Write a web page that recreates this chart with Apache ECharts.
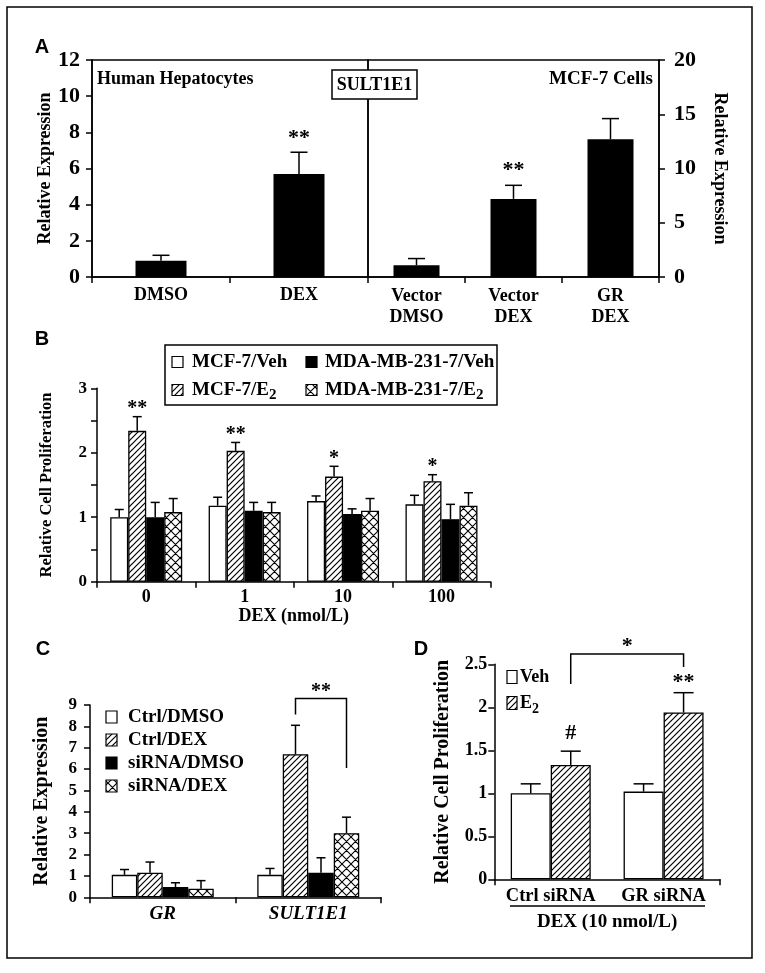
<!DOCTYPE html>
<html><head><meta charset="utf-8">
<script src="https://cdn.jsdelivr.net/npm/echarts@6/dist/echarts.min.js"></script>
<style>html,body{margin:0;padding:0;background:#fff}#c{width:765px;height:973px}</style>
</head><body><div id="c"></div>
<script>
// ---------- DATA ----------
// Panel A (left: human hepatocytes, right: MCF-7 cells)
const aLeftCats = ['DMSO', 'DEX'];
const aLeftVals = [0.9, 5.7];
const aLeftErr = [1.2, 6.9];
const aLeftSig = ['', '**'];
const aRightCats = ['Vector\nDMSO', 'Vector\nDEX', 'GR\nDEX'];
const aRightVals = [1.08, 7.2, 12.7];
const aRightErr = [1.7, 8.45, 14.6];
const aRightSig = ['', '**', ''];

// Panel B
const bCats = ['0', '1', '10', '100'];
const bMcfVeh = [1.0, 1.18, 1.25, 1.2];
const bMcfVehErr = [1.12, 1.31, 1.33, 1.34];
const bMcfE2 = [2.34, 2.03, 1.63, 1.56];
const bMcfE2Err = [2.56, 2.16, 1.79, 1.66];
const bMcfE2Sig = ['**', '**', '*', '*'];
const bMdaVeh = [1.0, 1.10, 1.05, 0.97];
const bMdaVehErr = [1.23, 1.23, 1.13, 1.2];
const bMdaE2 = [1.08, 1.08, 1.10, 1.18];
const bMdaE2Err = [1.29, 1.23, 1.29, 1.38];

// Panel C
const cCats = ['GR', 'SULT1E1'];
const cCtrlDmso = [1.05, 1.05];
const cCtrlDmsoErr = [1.3, 1.35];
const cCtrlDex = [1.15, 6.7];
const cCtrlDexErr = [1.65, 8.05];
const cSiDmso = [0.48, 1.15];
const cSiDmsoErr = [0.68, 1.85];
const cSiDex = [0.4, 3.0];
const cSiDexErr = [0.78, 3.75];
const cBracketLevels = [8.55, 9.3, 6.05]; // left foot, top, right foot
const cBracketSig = '**';

// Panel D
const dCats = ['Ctrl siRNA', 'GR siRNA'];
const dVeh = [1.0, 1.02];
const dVehErr = [1.11, 1.11];
const dE2 = [1.33, 1.94];
const dE2Err = [1.49, 2.17];
const dE2Sig = ['#', '**'];
const dBracketLevels = [2.27, 2.62, 2.47];
const dBracketSig = '*';

// ---------- STYLE HELPERS ----------
const SERIF = "'Liberation Serif', 'Times New Roman', serif";
const SANS = "'Liberation Sans', Arial, sans-serif";
function makeHatch(size, lw, cross) {
  const c = document.createElement('canvas');
  c.width = size; c.height = size;
  const g = c.getContext('2d');
  g.fillStyle = '#fff'; g.fillRect(0, 0, size, size);
  g.strokeStyle = '#000'; g.lineWidth = lw; g.beginPath();
  g.moveTo(0, size); g.lineTo(size, 0);
  g.moveTo(-size / 2, size / 2); g.lineTo(size / 2, -size / 2);
  g.moveTo(size / 2, size * 1.5); g.lineTo(size * 1.5, size / 2);
  if (cross) {
    g.moveTo(0, 0); g.lineTo(size, size);
    g.moveTo(-size / 2, size / 2); g.lineTo(size / 2, size * 1.5);
    g.moveTo(size / 2, -size / 2); g.lineTo(size * 1.5, size / 2);
  }
  g.stroke();
  return c;
}
const HATCH = { image: makeHatch(6, 1.2, false), repeat: 'repeat' };
const CROSS = { image: makeHatch(9, 1.1, true), repeat: 'repeat' };
const FILLS = { white: '#fff', hatch: HATCH, black: '#000', cross: CROSS };

function font(size, style) { return (style || '') + ' bold ' + size + 'px ' + SERIF; }

function xAxisCfg(gi, data, o) {
  return Object.assign({
    type: 'category', gridIndex: gi, data: data,
    axisLine: { show: true, lineStyle: { color: '#000', width: 1.5 } },
    axisTick: { show: true, length: 6, interval: 0, lineStyle: { color: '#000', width: 1.5 } },
    axisLabel: { interval: 0, color: '#000', fontFamily: SERIF, fontWeight: 'bold', fontSize: 18, margin: 8 },
    splitLine: { show: false }
  }, o || {});
}
function yAxisCfg(gi, min, max, interval, o) {
  return Object.assign({
    type: 'value', gridIndex: gi, min: min, max: max, interval: interval,
    axisLine: { show: true, lineStyle: { color: '#000', width: 1.5 } },
    axisTick: { show: true, length: 6, lineStyle: { color: '#000', width: 1.5 } },
    splitLine: { show: false },
    nameLocation: 'middle', nameRotate: 90,
    nameTextStyle: { color: '#000', fontFamily: SERIF, fontWeight: 'bold', fontSize: 18 }
  }, o || {});
}
function barSeries(gi, vals, fill, w, border) {
  return {
    type: 'bar', xAxisIndex: gi, yAxisIndex: gi, data: vals, barWidth: w, barGap: '0%',
    itemStyle: { color: FILLS[fill], borderColor: '#000', borderWidth: border === undefined ? 1.3 : border },
    silent: true, z: 2
  };
}
function errSeries(gi, vals, errs, sigs, idx, n, barW, cap, sigSize, gap) {
  return {
    type: 'custom', xAxisIndex: gi, yAxisIndex: gi, clip: false, silent: true, z: 5,
    data: vals.map((v, i) => [i, v, errs[i]]),
    renderItem: function (params, api) {
      const i = api.value(0);
      const p0 = api.coord([i, api.value(1)]);
      const p1 = api.coord([i, api.value(2)]);
      const x = p0[0] + (idx - (n - 1) / 2) * barW;
      const ch = [
        { type: 'line', shape: { x1: x, y1: p0[1], x2: x, y2: p1[1] }, style: { stroke: '#000', lineWidth: 1.5 } },
        { type: 'line', shape: { x1: x - cap / 2, y1: p1[1], x2: x + cap / 2, y2: p1[1] }, style: { stroke: '#000', lineWidth: 1.5 } }
      ];
      const s = sigs ? sigs[params.dataIndex] : '';
      if (s) {
        const extra = s === '#' ? -4 : sigSize * 0.16;
        ch.push({ type: 'text', style: { text: s, x: x, y: p1[1] - gap + extra, align: 'center', verticalAlign: 'middle', font: font(sigSize), fill: '#000' } });
      }
      return { type: 'group', children: ch };
    }
  };
}
function bracketSeries(gi, levels, label, catA, idxA, catB, idxB, n, barW, sigSize, gap) {
  return {
    type: 'custom', xAxisIndex: gi, yAxisIndex: gi, clip: false, silent: true, z: 5,
    data: [[catA, levels[0]]],
    renderItem: function (params, api) {
      const a = api.coord([catA, levels[0]]);
      const t = api.coord([catA, levels[1]]);
      const b = api.coord([catB, levels[2]]);
      const xa = a[0] + (idxA - (n - 1) / 2) * barW;
      const xb = b[0] + (idxB - (n - 1) / 2) * barW;
      return { type: 'group', children: [
        { type: 'polyline', shape: { points: [[xa, a[1]], [xa, t[1]], [xb, t[1]], [xb, b[1]]] }, style: { stroke: '#000', lineWidth: 1.5, fill: null } },
        { type: 'text', style: { text: label, x: (xa + xb) / 2, y: t[1] - gap + sigSize * 0.16, align: 'center', verticalAlign: 'middle', font: font(sigSize), fill: '#000' } }
      ] };
    }
  };
}

// legend helpers (graphic)
function legIcon(x, y, w, h, fill) {
  return { type: 'rect', shape: { x: x, y: y - h / 2, width: w, height: h }, style: { fill: FILLS[fill], stroke: '#000', lineWidth: 1.2 }, silent: true, z: 10 };
}
function legText(x, y, text, size, rich) {
  const st = { x: x, y: y, text: text, verticalAlign: 'middle', align: 'left', fill: '#000', font: font(size) };
  if (rich) st.rich = rich;
  return { type: 'text', style: st, silent: true, z: 10 };
}
const subRich = (size) => ({
  a: { fontFamily: SERIF, fontWeight: 'bold', fontSize: size, lineHeight: 26, verticalAlign: 'middle', color: '#000' },
  s: { fontFamily: SERIF, fontWeight: 'bold', fontSize: Math.round(size * 0.78), lineHeight: 26, verticalAlign: 'bottom', color: '#000' }
});

const chart = echarts.init(document.getElementById('c'), null, { renderer: 'canvas' });
const option = {
  backgroundColor: '#fff',
  animation: false,
  grid: [
    { left: 92, top: 60, width: 276, height: 217, show: true, borderColor: '#000', borderWidth: 1.5, backgroundColor: 'transparent', outerBoundsMode: 'none' },
    { left: 368, top: 60, width: 291, height: 217, show: true, borderColor: '#000', borderWidth: 1.5, backgroundColor: 'transparent', outerBoundsMode: 'none' },
    { left: 97, top: 388.3, width: 393.7, height: 193.4, outerBoundsMode: 'none' },
    { left: 90, top: 705, width: 291, height: 192.3, outerBoundsMode: 'none' },
    { left: 494.3, top: 664.3, width: 225.7, height: 215, outerBoundsMode: 'none' }
  ],
  xAxis: [
    xAxisCfg(0, aLeftCats, { axisLabel: { interval: 0, color: '#000', fontFamily: SERIF, fontWeight: 'bold', fontSize: 18, margin: 9 } }),
    xAxisCfg(1, aRightCats, { axisLabel: { interval: 0, color: '#000', fontFamily: SERIF, fontWeight: 'bold', fontSize: 18, margin: 9, lineHeight: 21 } }),
    xAxisCfg(2, bCats, {
      axisLabel: { interval: 0, color: '#000', fontFamily: SERIF, fontWeight: 'bold', fontSize: 18, margin: 7 },
      name: 'DEX (nmol/L)', nameLocation: 'middle', nameGap: 19,
      nameTextStyle: { color: '#000', fontFamily: SERIF, fontWeight: 'bold', fontSize: 18 }
    }),
    xAxisCfg(3, cCats, { axisLabel: { interval: 0, color: '#000', fontFamily: SERIF, fontWeight: 'bold', fontStyle: 'italic', fontSize: 19, margin: 7 } }),
    xAxisCfg(4, dCats, {
      axisTick: { show: true, length: 6, interval: function (i) { return i === 0; }, lineStyle: { color: '#000', width: 1.5 } },
      axisLabel: { interval: 0, color: '#000', fontFamily: SERIF, fontWeight: 'bold', fontSize: 18.5, margin: 7 },
      name: 'DEX (10 nmol/L)', nameLocation: 'middle', nameGap: 33,
      nameTextStyle: { color: '#000', fontFamily: SERIF, fontWeight: 'bold', fontSize: 19 }
    })
  ],
  yAxis: [
    yAxisCfg(0, 0, 12, 2, {
      axisLabel: { color: '#000', fontFamily: SERIF, fontWeight: 'bold', fontSize: 22, margin: 12 },
      name: 'Relative Expression', nameGap: 38
    }),
    yAxisCfg(1, 0, 20, 5, {
      position: 'right',
      axisLabel: { color: '#000', fontFamily: SERIF, fontWeight: 'bold', fontSize: 22, margin: 15 },
      name: 'Relative Expression', nameGap: 52, nameRotate: -90
    }),
    yAxisCfg(2, 0, 3, 0.5, {
      axisLabel: { color: '#000', fontFamily: SERIF, fontWeight: 'bold', fontSize: 17, margin: 10,
        formatter: function (v) { return Math.abs(v - Math.round(v)) < 1e-9 ? String(Math.round(v)) : ''; } },
      name: 'Relative Cell Proliferation', nameGap: 42,
      nameTextStyle: { color: '#000', fontFamily: SERIF, fontWeight: 'bold', fontSize: 16.5 }
    }),
    yAxisCfg(3, 0, 9, 1, {
      axisLabel: { color: '#000', fontFamily: SERIF, fontWeight: 'bold', fontSize: 17, margin: 13 },
      name: 'Relative Expression', nameGap: 38,
      nameTextStyle: { color: '#000', fontFamily: SERIF, fontWeight: 'bold', fontSize: 20 }
    }),
    yAxisCfg(4, 0, 2.5, 0.5, {
      axisLabel: { color: '#000', fontFamily: SERIF, fontWeight: 'bold', fontSize: 18, margin: 7 },
      name: 'Relative Cell Proliferation', nameGap: 41,
      nameTextStyle: { color: '#000', fontFamily: SERIF, fontWeight: 'bold', fontSize: 20 }
    })
  ],
  series: [
    // A
    barSeries(0, aLeftVals, 'black', 51, 0),
    errSeries(0, aLeftVals, aLeftErr, aLeftSig, 0, 1, 51, 17, 22, 17),
    barSeries(1, aRightVals, 'black', 46, 0),
    errSeries(1, aRightVals, aRightErr, aRightSig, 0, 1, 46, 17, 22, 19),
    // B
    barSeries(2, bMcfVeh, 'white', 18),
    barSeries(2, bMcfE2, 'hatch', 18),
    barSeries(2, bMdaVeh, 'black', 18),
    barSeries(2, bMdaE2, 'cross', 18),
    errSeries(2, bMcfVeh, bMcfVehErr, null, 0, 4, 18, 9, 20, 11),
    errSeries(2, bMcfE2, bMcfE2Err, bMcfE2Sig, 1, 4, 18, 9, 20, 11),
    errSeries(2, bMdaVeh, bMdaVehErr, null, 2, 4, 18, 9, 20, 11),
    errSeries(2, bMdaE2, bMdaE2Err, null, 3, 4, 18, 9, 20, 11),
    // C
    barSeries(3, cCtrlDmso, 'white', 25.5),
    barSeries(3, cCtrlDex, 'hatch', 25.5),
    barSeries(3, cSiDmso, 'black', 25.5),
    barSeries(3, cSiDex, 'cross', 25.5),
    errSeries(3, cCtrlDmso, cCtrlDmsoErr, null, 0, 4, 25.5, 9, 20, 10),
    errSeries(3, cCtrlDex, cCtrlDexErr, null, 1, 4, 25.5, 9, 20, 10),
    errSeries(3, cSiDmso, cSiDmsoErr, null, 2, 4, 25.5, 9, 20, 10),
    errSeries(3, cSiDex, cSiDexErr, null, 3, 4, 25.5, 9, 20, 10),
    bracketSeries(3, cBracketLevels, cBracketSig, 1, 1, 1, 3, 4, 25.5, 20, 10),
    // D
    barSeries(4, dVeh, 'white', 40),
    barSeries(4, dE2, 'hatch', 40),
    errSeries(4, dVeh, dVehErr, null, 0, 2, 40, 20, 22, 14),
    errSeries(4, dE2, dE2Err, dE2Sig, 1, 2, 40, 20, 22, 14),
    bracketSeries(4, dBracketLevels, dBracketSig, 0, 1, 1, 1, 2, 40, 22, 11)
  ],
  graphic: [
    // outer frame
    { type: 'rect', shape: { x: 7, y: 7, width: 745, height: 951 }, style: { fill: null, stroke: '#000', lineWidth: 1.5 }, silent: true },
    // panel letters
    { type: 'text', style: { x: 42, y: 47.5, text: 'A', align: 'center', verticalAlign: 'middle', font: 'bold 20px ' + SANS, fill: '#000' }, silent: true },
    { type: 'text', style: { x: 42, y: 339, text: 'B', align: 'center', verticalAlign: 'middle', font: 'bold 20px ' + SANS, fill: '#000' }, silent: true },
    { type: 'text', style: { x: 43, y: 649, text: 'C', align: 'center', verticalAlign: 'middle', font: 'bold 20px ' + SANS, fill: '#000' }, silent: true },
    { type: 'text', style: { x: 421, y: 649, text: 'D', align: 'center', verticalAlign: 'middle', font: 'bold 20px ' + SANS, fill: '#000' }, silent: true },
    // panel A texts
    { type: 'text', style: { x: 97, y: 79, text: 'Human Hepatocytes', align: 'left', verticalAlign: 'middle', font: font(18), fill: '#000' }, silent: true },
    { type: 'text', style: { x: 653, y: 79, text: 'MCF-7 Cells', align: 'right', verticalAlign: 'middle', font: font(19), fill: '#000' }, silent: true },
    { type: 'rect', shape: { x: 332, y: 70, width: 85, height: 29 }, style: { fill: '#fff', stroke: '#000', lineWidth: 1.5 }, silent: true, z: 10 },
    { type: 'text', style: { x: 374.5, y: 85, text: 'SULT1E1', align: 'center', verticalAlign: 'middle', font: font(18), fill: '#000' }, silent: true, z: 11 },
    // panel B legend
    { type: 'rect', shape: { x: 165, y: 345, width: 332, height: 60 }, style: { fill: '#fff', stroke: '#000', lineWidth: 1.5 }, silent: true, z: 9 },
    legIcon(172, 362, 11, 11, 'white'), legText(192, 362, 'MCF-7/Veh', 19),
    legIcon(306, 362, 11, 11, 'black'), legText(325, 362, 'MDA-MB-231-7/Veh', 19),
    legIcon(172, 390, 11, 11, 'hatch'), legText(192, 390, '{a|MCF-7/E}{s|2}', 19, subRich(19)),
    legIcon(306, 390, 11, 11, 'cross'), legText(325, 390, '{a|MDA-MB-231-7/E}{s|2}', 19, subRich(19)),
    // panel C legend
    legIcon(106, 717, 11, 12, 'white'), legText(128, 717, 'Ctrl/DMSO', 19),
    legIcon(106, 740, 11, 12, 'hatch'), legText(128, 740, 'Ctrl/DEX', 19),
    legIcon(106, 763, 11, 12, 'black'), legText(128, 763, 'siRNA/DMSO', 19),
    legIcon(106, 786, 11, 12, 'cross'), legText(128, 786, 'siRNA/DEX', 19),
    // panel D legend
    legIcon(507, 677, 10, 13, 'white'), legText(520, 677, 'Veh', 18),
    legIcon(507, 703, 10, 13, 'hatch'), legText(520, 703, '{a|E}{s|2}', 18, subRich(18)),
    // panel D underline
    { type: 'line', shape: { x1: 510, y1: 906, x2: 705, y2: 906 }, style: { stroke: '#000', lineWidth: 1.5 }, silent: true }
  ]
};
chart.setOption(option);
</script>
</body></html>
